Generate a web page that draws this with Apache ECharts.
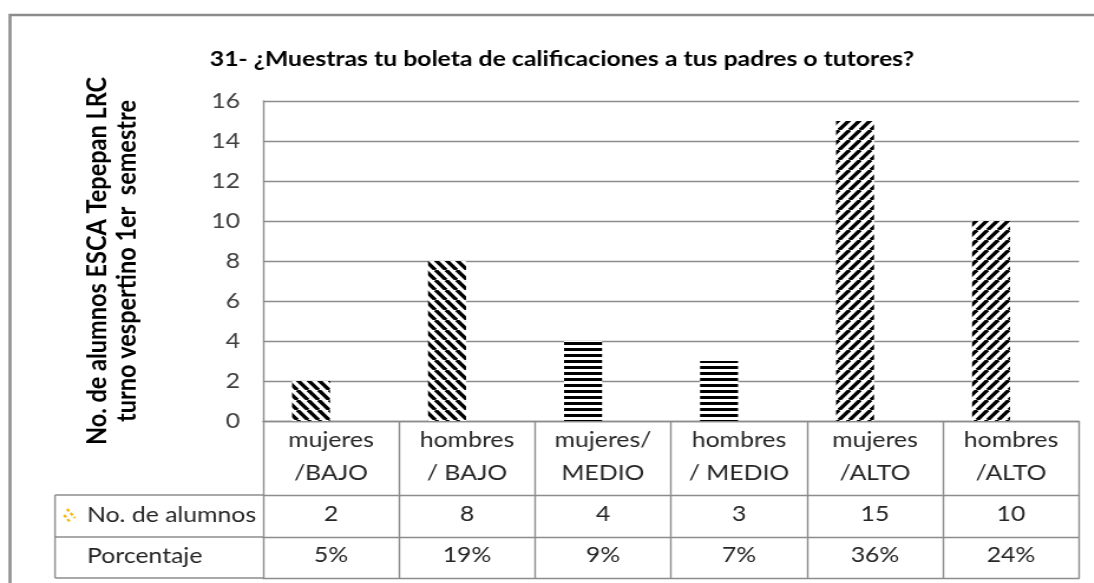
<!DOCTYPE html>
<html>
<head>
<meta charset="utf-8">
<script src="https://cdn.jsdelivr.net/npm/echarts@6/dist/echarts.min.js"></script>
<style>
  html, body { margin: 0; padding: 0; background: #fff; overflow: hidden; }
  /* la imagen original esta estirada en horizontal */
  #chart { width: 927px; height: 583px; transform: scaleX(1.18); transform-origin: 0 0; }
</style>
</head>
<body>
<div id="chart"></div>
<script>
// datos
var categories = ['mujeres\n/BAJO', 'hombres\n/ BAJO', 'mujeres/\nMEDIO', 'hombres\n/ MEDIO', 'mujeres\n/ALTO', 'hombres\n/ALTO'];
var alumnos = [2, 8, 4, 3, 15, 10];
var porcentaje = [0.05, 0.19, 0.09, 0.07, 0.36, 0.24];
var yTicks = [0, 2, 4, 6, 8, 10, 12, 14, 16];

var SX = 1.18;
function X(px) { return px / SX; } // de pixel final a pixel del lienzo

var FONT = 'Lato, "Open Sans", sans-serif';
var GRAY = '#8c8c8c';

// rayado de las barras
function makePattern(kind) {
  var c = document.createElement('canvas');
  var ctx = c.getContext('2d');
  if (kind === 'h') {
    c.width = 6; c.height = 6;
    ctx.fillStyle = '#fff';
    ctx.fillRect(0, 0, 6, 6);
    ctx.fillStyle = '#000';
    ctx.fillRect(0, 0, 6, 3);
    return { image: c, repeat: 'repeat' };
  }
  var w = 9, h = 10;
  c.width = w; c.height = h;
  ctx.fillStyle = '#fff';
  ctx.fillRect(0, 0, w, h);
  ctx.strokeStyle = '#000';
  ctx.lineWidth = 3.4;
  ctx.beginPath();
  for (var k = -1; k <= 1; k++) {
    if (kind === 'b') { // "\"
      ctx.moveTo(k * w, 0); ctx.lineTo(k * w + w, h);
    } else { // "/"
      ctx.moveTo(k * w, h); ctx.lineTo(k * w + w, 0);
    }
  }
  ctx.stroke();
  return { image: c, repeat: 'repeat' };
}
var patternByCat = ['b', 'b', 'h', 'h', 'f', 'f'].map(makePattern);

var chart = echarts.init(document.getElementById('chart'));

var W = 927;
var gridLeft = X(263), gridRight = X(1079);
var rowLines = [495, 537, 578];

function tableAxis(offset, labels, margin) {
  return {
    type: 'category',
    data: categories,
    position: 'bottom',
    offset: offset,
    axisLine: { show: true, lineStyle: { color: GRAY, width: 1.4 } },
    axisTick: { show: false },
    axisLabel: {
      show: !!labels,
      margin: margin,
      interval: 0,
      fontFamily: FONT,
      fontSize: 21,
      color: '#262626',
      formatter: function (v, i) { return labels ? labels[i] : ''; }
    },
    splitLine: { show: false }
  };
}

var option = {
  backgroundColor: '#fff',
  animation: false,
  title: {
    text: '31- ¿Muestras tu boleta de calificaciones a tus padres o tutores?',
    left: X(556),
    top: 44,
    textAlign: 'center',
    textStyle: { fontFamily: FONT, fontSize: 21, fontWeight: 'bold', color: '#000' }
  },
  grid: { left: gridLeft, right: W - gridRight, top: 101, bottom: 583 - 421 },
  xAxis: [
    {
      type: 'category',
      data: categories,
      position: 'bottom',
      axisLine: { show: true, lineStyle: { color: GRAY, width: 1.4 } },
      axisTick: { show: true, length: 157, lineStyle: { color: GRAY, width: 1.4 } },
      axisLabel: {
        interval: 0,
        margin: 3,
        fontFamily: FONT,
        fontSize: 21,
        lineHeight: 33,
        color: '#262626'
      }
    },
    tableAxis(74, alumnos.map(String), 9),
    tableAxis(116, porcentaje.map(function (p) { return Math.round(p * 100) + '%'; }), 8),
    tableAxis(157, null, 0)
  ],
  yAxis: {
    type: 'value',
    min: yTicks[0],
    max: yTicks[yTicks.length - 1],
    interval: 2,
    name: 'No. de alumnos ESCA Tepepan LRC\nturno vespertino 1er  semestre',
    nameLocation: 'middle',
    nameRotate: 90,
    nameGap: 103,
    nameTextStyle: { fontFamily: FONT, fontSize: 23.5, fontWeight: 'bold', color: '#000', lineHeight: 25 },
    axisLine: { show: true, lineStyle: { color: GRAY, width: 1.4 } },
    axisTick: { show: false },
    axisLabel: { margin: X(23), fontFamily: FONT, fontSize: 21, color: '#404040' },
    splitLine: { show: true, lineStyle: { color: GRAY, width: 1.4 } }
  },
  series: [
    {
      name: 'No. de alumnos',
      type: 'bar',
      barWidth: X(38),
      barGap: '5%',
      data: alumnos.map(function (v, i) {
        return { value: v, itemStyle: { color: patternByCat[i] } };
      })
    },
    {
      name: 'Porcentaje',
      type: 'bar',
      barWidth: X(38),
      itemStyle: { color: 'rgba(0,0,0,0)' },
      data: porcentaje
    }
  ],
  graphic: [
    // marco exterior
    { type: 'rect', shape: { x: X(10), y: 15, width: 1200, height: 700 }, style: { fill: 'none', stroke: GRAY, lineWidth: 2.5 }, silent: true },
    // prolongacion de la tabla hacia la izquierda
    { type: 'line', shape: { x1: X(55), y1: rowLines[0], x2: gridLeft, y2: rowLines[0] }, style: { stroke: GRAY, lineWidth: 1.4 } },
    { type: 'line', shape: { x1: X(55), y1: rowLines[1], x2: gridLeft, y2: rowLines[1] }, style: { stroke: GRAY, lineWidth: 1.4 } },
    { type: 'line', shape: { x1: X(55), y1: rowLines[2], x2: gridLeft, y2: rowLines[2] }, style: { stroke: GRAY, lineWidth: 1.4 } },
    { type: 'line', shape: { x1: X(55), y1: rowLines[0], x2: X(55), y2: rowLines[2] }, style: { stroke: GRAY, lineWidth: 1.4 } },
    // clave de la serie
    { type: 'line', shape: { x1: X(67), y1: 509, x2: X(75), y2: 518 }, style: { stroke: '#f5b800', lineWidth: 2.2, lineDash: [3, 2] } },
    { type: 'line', shape: { x1: X(64), y1: 515, x2: X(70), y2: 522 }, style: { stroke: '#f5b800', lineWidth: 2.2, lineDash: [3, 2] } },
    { type: 'text', left: X(87), top: 505, style: { text: 'No. de alumnos', font: '21px ' + FONT, fill: '#262626' } },
    { type: 'text', left: X(87), top: 546, style: { text: 'Porcentaje', font: '21px ' + FONT, fill: '#262626' } }
  ]
};

chart.setOption(option);
</script>
</body>
</html>
